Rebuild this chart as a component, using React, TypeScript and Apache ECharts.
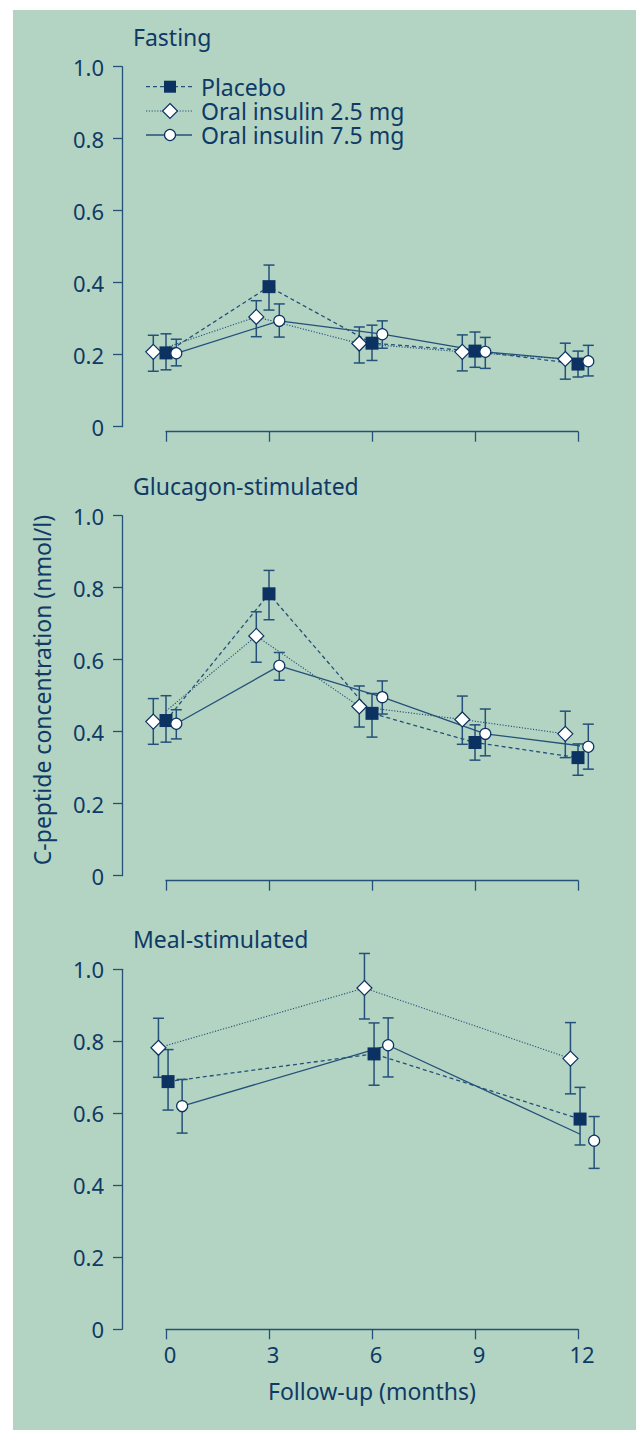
import React, { useEffect, useRef } from "react";
import * as echarts from "echarts";

// ---------- data ----------
const MONTHS = [0, 3, 6, 9, 12];
const MEAL_MONTHS = [0, 6, 12];
const GROUPS = ["Placebo", "Oral insulin 2.5 mg", "Oral insulin 7.5 mg"];
const PANEL_TITLES = ["Fasting", "Glucagon-stimulated", "Meal-stimulated"];
const X_TITLE = "Follow-up (months)";
const Y_TITLE = "C-peptide concentration (nmol/l)";

// Fasting
const fastPlacebo = [0.205, 0.389, 0.232, 0.21, 0.174];
const fastPlaceboLo = [0.158, 0.324, 0.184, 0.165, 0.138];
const fastPlaceboHi = [0.258, 0.449, 0.282, 0.263, 0.21];
const fast25 = [0.208, 0.305, 0.231, 0.208, 0.188];
const fast25Lo = [0.154, 0.25, 0.177, 0.155, 0.132];
const fast25Hi = [0.254, 0.35, 0.277, 0.255, 0.232];
const fast75 = [0.204, 0.294, 0.257, 0.208, 0.182];
const fast75Lo = [0.169, 0.249, 0.218, 0.162, 0.141];
const fast75Hi = [0.243, 0.341, 0.294, 0.248, 0.226];

// Glucagon-stimulated
const glucPlacebo = [0.431, 0.783, 0.451, 0.37, 0.328];
const glucPlaceboLo = [0.371, 0.711, 0.385, 0.321, 0.279];
const glucPlaceboHi = [0.5, 0.848, 0.506, 0.419, 0.366];
const gluc25 = [0.428, 0.666, 0.47, 0.434, 0.394];
const gluc25Lo = [0.365, 0.593, 0.413, 0.365, 0.328];
const gluc25Hi = [0.492, 0.733, 0.527, 0.499, 0.457];
const gluc75 = [0.422, 0.583, 0.496, 0.394, 0.358];
const gluc75Lo = [0.38, 0.543, 0.449, 0.333, 0.296];
const gluc75Hi = [0.461, 0.62, 0.541, 0.463, 0.421];

// Meal-stimulated
const mealPlacebo = [0.688, 0.765, 0.584];
const mealPlaceboLo = [0.609, 0.678, 0.512];
const mealPlaceboHi = [0.777, 0.851, 0.672];
const meal25 = [0.782, 0.948, 0.752];
const meal25Lo = [0.7, 0.862, 0.654];
const meal25Hi = [0.864, 1.044, 0.852];
const meal75 = [0.62, 0.789, 0.524];
const meal75Lo = [0.545, 0.701, 0.447];
const meal75Hi = [0.694, 0.865, 0.591];

// ---------- styles ----------
const BG = "#b3d4c2";
const TEXT = "#0f3a66";
const NAVY = "#0b3260";
const LINE = "#24507a";
const AXIS = "#24507a";
const FONT = "Noto Sans";

const PANEL_TOPS = [66.7, 515.7, 969.3];
const PANEL_H = 360;
const GRID_LEFT = 166;
const GRID_W = 412;
const Y_AXIS_X = 122;
const X_OFFSETS = [5, 5, 0];
// horizontal dodge (months) per panel per group: placebo, 2.5, 7.5
const DODGE = [
  [0, -0.37, 0.3],
  [0, -0.37, 0.3],
  [0.06, -0.22, 0.47],
];

const SYMBOLS = [
  { symbol: "rect", size: 13, fill: NAVY, dash: [4, 3] as any, width: 1.3 },
  { symbol: "diamond", size: 15, fill: "#ffffff", dash: [1.2, 1.6] as any, width: 1.1 },
  { symbol: "circle", size: 11, fill: "#ffffff", dash: "solid" as any, width: 1.3 },
];

const PANELS = [
  {
    months: MONTHS,
    groups: [
      [fastPlacebo, fastPlaceboLo, fastPlaceboHi],
      [fast25, fast25Lo, fast25Hi],
      [fast75, fast75Lo, fast75Hi],
    ],
  },
  {
    months: MONTHS,
    groups: [
      [glucPlacebo, glucPlaceboLo, glucPlaceboHi],
      [gluc25, gluc25Lo, gluc25Hi],
      [gluc75, gluc75Lo, gluc75Hi],
    ],
  },
  {
    months: MEAL_MONTHS,
    groups: [
      [mealPlacebo, mealPlaceboLo, mealPlaceboHi],
      [meal25, meal25Lo, meal25Hi],
      [meal75, meal75Lo, meal75Hi],
    ],
  },
];

function buildOption() {
  const grids: any[] = [];
  const xAxes: any[] = [];
  const yAxes: any[] = [];
  const series: any[] = [];
  const graphics: any[] = [];

  graphics.push({
    type: "rect",
    z: -100,
    silent: true,
    shape: { x: 13, y: 10, width: 623, height: 1420 },
    style: { fill: BG },
  });

  PANELS.forEach((panel, p) => {
    const last = p === PANELS.length - 1;
    grids.push({ left: GRID_LEFT, top: PANEL_TOPS[p], width: GRID_W, height: PANEL_H, containLabel: false });
    xAxes.push({
      gridIndex: p,
      type: "value",
      min: 0,
      max: 12,
      interval: 3,
      offset: X_OFFSETS[p],
      axisLine: { show: true, onZero: false, lineStyle: { color: AXIS, width: 1.3 } },
      axisTick: { show: true, inside: false, length: 10, lineStyle: { color: AXIS, width: 1.3 } },
      splitLine: { show: false },
      axisLabel: {
        show: last,
        color: TEXT,
        fontFamily: FONT,
        fontSize: 22,
        margin: 14,
        padding: [0, 0, 0, 8],
      },
      name: last ? X_TITLE : "",
      nameLocation: "middle",
      nameGap: 50,
      nameTextStyle: { color: TEXT, fontFamily: FONT, fontSize: 23 },
    });
    yAxes.push({
      gridIndex: p,
      type: "value",
      min: 0,
      max: 1,
      interval: 0.2,
      offset: GRID_LEFT - Y_AXIS_X,
      axisLine: { show: true, onZero: false, lineStyle: { color: AXIS, width: 1.3 } },
      axisTick: { show: true, inside: false, length: 9, lineStyle: { color: AXIS, width: 1.3 } },
      splitLine: { show: false },
      axisLabel: {
        color: TEXT,
        fontFamily: FONT,
        fontSize: 22,
        margin: 18,
        formatter: (v: number) => (v === 0 ? "0" : v.toFixed(1)),
      },
    });

    graphics.push({
      type: "text",
      x: 133,
      y: PANEL_TOPS[p] - 30,
      style: { text: PANEL_TITLES[p], fill: TEXT, font: `23px "${FONT}"`, verticalAlign: "middle" },
    });

    panel.groups.forEach((g, gi) => {
      const [mean, lo, hi] = g;
      const sty = SYMBOLS[gi];
      const xs = panel.months.map((m) => m + DODGE[p][gi]);
      const pts = xs.map((x, i) => [x, mean[i]]);
      const errs = xs.map((x, i) => [x, lo[i], hi[i]]);
      series.push({
        type: "line",
        name: GROUPS[gi],
        xAxisIndex: p,
        yAxisIndex: p,
        data: pts,
        symbol: "none",
        clip: false,
        z: 2,
        lineStyle: { color: LINE, width: sty.width, type: sty.dash },
      });
      series.push({
        type: "custom",
        name: GROUPS[gi] + " SE",
        xAxisIndex: p,
        yAxisIndex: p,
        data: errs,
        z: 3,
        encode: { x: 0, y: [1, 2] },
        renderItem: (params: any, api: any) => {
          const x = api.value(0);
          const a = api.coord([x, api.value(1)]);
          const b = api.coord([x, api.value(2)]);
          const w = 5.5;
          const st = { stroke: AXIS, lineWidth: 1.5 };
          return {
            type: "group",
            children: [
              { type: "line", shape: { x1: a[0], y1: a[1], x2: b[0], y2: b[1] }, style: st },
              { type: "line", shape: { x1: a[0] - w, y1: a[1], x2: a[0] + w, y2: a[1] }, style: st },
              { type: "line", shape: { x1: b[0] - w, y1: b[1], x2: b[0] + w, y2: b[1] }, style: st },
            ],
          };
        },
      });
    });
    // markers on top: diamond, square, circle
    [1, 0, 2].forEach((gi) => {
      const [mean] = panel.groups[gi];
      const sty = SYMBOLS[gi];
      const xs = panel.months.map((m) => m + DODGE[p][gi]);
      series.push({
        type: "scatter",
        name: GROUPS[gi] + " pts",
        xAxisIndex: p,
        yAxisIndex: p,
        data: xs.map((x, i) => [x, mean[i]]),
        symbol: sty.symbol,
        symbolSize: sty.size,
        clip: false,
        z: 5,
        itemStyle: { color: sty.fill, borderColor: NAVY, borderWidth: gi === 0 ? 0 : 1.2, opacity: 1 },
      });
    });
  });

  // y-axis title
  graphics.push({
    type: "text",
    x: 42,
    y: 690,
    rotation: Math.PI / 2,
    style: {
      text: Y_TITLE,
      fill: TEXT,
      font: `23px "${FONT}"`,
      align: "center",
      verticalAlign: "middle",
    },
  });

  // legend
  const rows = [86.7, 111, 135];
  rows.forEach((y, gi) => {
    const sty = SYMBOLS[gi];
    graphics.push({
      type: "line",
      shape: { x1: 146, y1: y, x2: 192, y2: y },
      style: { stroke: LINE, lineWidth: sty.width, lineDash: sty.dash === "solid" ? null : sty.dash },
    });
    if (gi === 0) {
      graphics.push({ type: "rect", shape: { x: 164, y: y - 6, width: 12, height: 12 }, style: { fill: NAVY } });
    } else if (gi === 1) {
      graphics.push({
        type: "polygon",
        shape: { points: [[170, y - 7.5], [177.5, y], [170, y + 7.5], [162.5, y]] },
        style: { fill: "#fff", stroke: NAVY, lineWidth: 1.2 },
      });
    } else {
      graphics.push({ type: "circle", shape: { cx: 170, cy: y, r: 5.5 }, style: { fill: "#fff", stroke: NAVY, lineWidth: 1.2 } });
    }
    graphics.push({
      type: "text",
      x: 201,
      y: y,
      style: { text: GROUPS[gi], fill: TEXT, font: `23px "${FONT}"`, lineHeight: 23, verticalAlign: "middle" },
    });
  });

  return {
    animation: false,
    backgroundColor: "#ffffff",
    textStyle: { fontFamily: FONT },
    grid: grids,
    xAxis: xAxes,
    yAxis: yAxes,
    series,
    graphic: graphics,
  };
}

export default function App() {
  const ref = useRef<HTMLDivElement>(null);
  useEffect(() => {
    if (!ref.current) return;
    const chart = echarts.init(ref.current, undefined, { renderer: "svg" });
    chart.setOption(buildOption() as any);
    return () => chart.dispose();
  }, []);
  return (
    <div
      ref={ref}
      style={{ position: "absolute", left: 0, top: 0, width: 636, height: 1430 }}
    />
  );
}
